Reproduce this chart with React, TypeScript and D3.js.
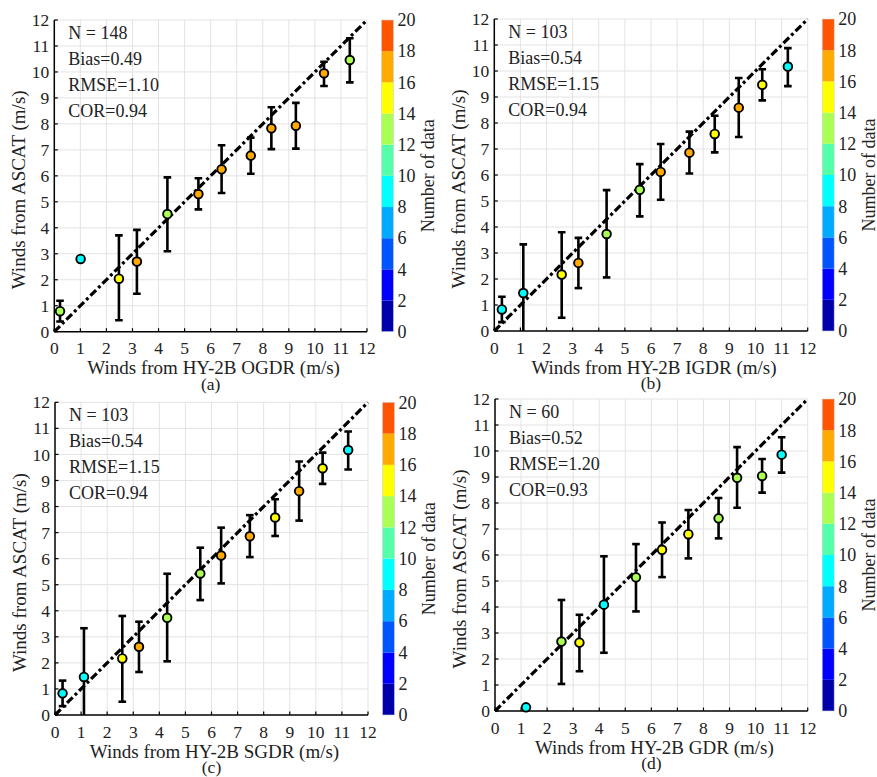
import React from "react";
import * as d3 from "d3";

// ---- data -------------------------------------------------------------
const TICKS = [0, 1, 2, 3, 4, 5, 6, 7, 8, 9, 10, 11, 12];
const CB_TICKS = [0, 2, 4, 6, 8, 10, 12, 14, 16, 18, 20];
// jet(10) colormap used for the "Number of data" colour bar
const JET10 = [
  "#0000aa", "#0000ff", "#0055ff", "#00aaff", "#00ffff",
  "#55ffaa", "#aaff55", "#ffff00", "#ffaa00", "#ff5500",
];

// (a) OGDR
const ogdrX = [0.22, 1.01, 2.48, 3.17, 4.34, 5.53, 6.42, 7.54, 8.33, 9.27, 10.35, 11.34];
const ogdrY = [0.79, 2.8, 2.04, 2.7, 4.53, 5.3, 6.25, 6.78, 7.83, 7.93, 9.95, 10.46];
const ogdrHi = [1.19, null, 3.71, 3.92, 5.94, 5.91, 7.18, 7.47, 8.64, 8.81, 10.39, 11.3];
const ogdrLo = [0.39, null, 0.44, 1.46, 3.1, 4.71, 5.34, 6.08, 7.03, 7.05, 9.46, 9.6];
const ogdrN = [13, 9, 15, 17, 13, 17, 17, 17, 17, 17, 17, 13];
const ogdrStats = ["N = 148", "Bias=0.49", "RMSE=1.10", "COR=0.94"];

// (b) IGDR
const igdrX = [0.29, 1.11, 2.58, 3.22, 4.3, 5.57, 6.37, 7.47, 8.44, 9.36, 10.26, 11.24];
const igdrY = [0.83, 1.46, 2.17, 2.62, 3.73, 5.43, 6.12, 6.86, 7.58, 8.59, 9.47, 10.17];
const igdrHi = [1.32, 3.33, 3.8, 3.58, 5.42, 6.42, 7.19, 7.67, 8.28, 9.73, 10.07, 10.88];
const igdrLo = [0.34, -0.41, 0.51, 1.65, 2.06, 4.41, 5.05, 6.06, 6.87, 7.46, 8.87, 9.42];
const igdrN = [9, 9, 15, 17, 13, 13, 17, 17, 15, 17, 15, 9];
const igdrStats = ["N = 103", "Bias=0.54", "RMSE=1.15", "COR=0.94"];

// (c) SGDR
const sgdrX = [0.29, 1.11, 2.58, 3.22, 4.3, 5.57, 6.37, 7.47, 8.44, 9.36, 10.26, 11.24];
const sgdrY = [0.83, 1.46, 2.17, 2.62, 3.73, 5.43, 6.12, 6.86, 7.58, 8.59, 9.47, 10.17];
const sgdrHi = [1.32, 3.33, 3.8, 3.58, 5.42, 6.42, 7.19, 7.67, 8.28, 9.73, 10.07, 10.88];
const sgdrLo = [0.34, -0.41, 0.51, 1.65, 2.06, 4.41, 5.05, 6.06, 6.87, 7.46, 8.87, 9.42];
const sgdrN = [9, 9, 15, 17, 13, 13, 17, 17, 15, 17, 15, 9];
const sgdrStats = ["N = 103", "Bias=0.54", "RMSE=1.15", "COR=0.94"];

// (d) GDR
const gdrX = [1.19, 2.55, 3.24, 4.18, 5.41, 6.41, 7.42, 8.58, 9.29, 10.25, 11.0];
const gdrY = [0.14, 2.67, 2.63, 4.09, 5.14, 6.2, 6.8, 7.41, 8.97, 9.04, 9.86];
const gdrHi = [null, 4.27, 3.7, 5.95, 6.42, 7.25, 7.73, 8.19, 10.15, 9.69, 10.53];
const gdrLo = [null, 1.04, 1.53, 2.24, 3.83, 5.15, 5.87, 6.64, 7.82, 8.4, 9.17];
const gdrN = [9, 13, 15, 9, 13, 15, 15, 13, 13, 13, 9];
const gdrStats = ["N = 60", "Bias=0.52", "RMSE=1.20", "COR=0.93"];

// ---- layout -----------------------------------------------------------
const FONT = "'Liberation Serif', 'Times New Roman', serif";

type PanelDef = {
  id: string;
  left: number;
  top: number;
  w: number;
  h: number;
  xs: number[];
  ys: number[];
  hi: (number | null)[];
  lo: (number | null)[];
  n: number[];
  stats: string[];
  xLabel: string;
  tag: string;
};

const panels: PanelDef[] = [
  { id: "a", left: 54.3, top: 20, w: 312.7, h: 311.7, xs: ogdrX, ys: ogdrY, hi: ogdrHi, lo: ogdrLo, n: ogdrN, stats: ogdrStats, xLabel: "Winds from HY-2B OGDR (m/s)", tag: "(a)" },
  { id: "b", left: 494.3, top: 19, w: 313.4, h: 312, xs: igdrX, ys: igdrY, hi: igdrHi, lo: igdrLo, n: igdrN, stats: igdrStats, xLabel: "Winds from HY-2B IGDR (m/s)", tag: "(b)" },
  { id: "c", left: 55, top: 402.3, w: 313, h: 312.7, xs: sgdrX, ys: sgdrY, hi: sgdrHi, lo: sgdrLo, n: sgdrN, stats: sgdrStats, xLabel: "Winds from HY-2B SGDR (m/s)", tag: "(c)" },
  { id: "d", left: 495, top: 399, w: 312.7, h: 312, xs: gdrX, ys: gdrY, hi: gdrHi, lo: gdrLo, n: gdrN, stats: gdrStats, xLabel: "Winds from HY-2B GDR (m/s)", tag: "(d)" },
];

const colorOf = d3.scaleQuantize<string>().domain([0, 20]).range(JET10);

function Panel({ p }: { p: PanelDef }) {
  const x = d3.scaleLinear().domain([0, 12]).range([p.left, p.left + p.w]);
  const y = d3.scaleLinear().domain([0, 12]).range([p.top + p.h, p.top]);
  const x0 = x(0);
  const y0 = y(0);
  const cbL = p.left + p.w + 14.5;
  const cbW = 12;
  const cb = d3.scaleLinear().domain([0, 20]).range([y0, y(12)]);
  const diag = d3.line<number>().x((v) => x(v)).y((v) => y(v));
  const clipId = `clip-${p.id}`;
  const cap = 3.8;

  return (
    <g>
      <defs>
        <clipPath id={clipId}>
          <rect x={x0} y={y(12) - 2} width={p.w + 2} height={p.h + 2} />
        </clipPath>
      </defs>
      {/* grid */}
      {TICKS.slice(1).map((t) => (
        <g key={`g${t}`}>
          <line x1={x(t)} x2={x(t)} y1={y0} y2={y(12)} stroke="#e3e3e3" strokeWidth={1} />
          <line x1={x0} x2={x(12)} y1={y(t)} y2={y(t)} stroke="#e3e3e3" strokeWidth={1} />
        </g>
      ))}
      {/* axes */}
      <line x1={x0} x2={x(12)} y1={y0} y2={y0} stroke="#000" strokeWidth={1.5} />
      <line x1={x0} x2={x0} y1={y0} y2={y(12)} stroke="#000" strokeWidth={1.5} />
      {TICKS.map((t) => (
        <g key={`t${t}`}>
          <line x1={x(t)} x2={x(t)} y1={y0} y2={y0 - 3.5} stroke="#000" strokeWidth={1.2} />
          <line x1={x0} x2={x0 + 3.5} y1={y(t)} y2={y(t)} stroke="#000" strokeWidth={1.2} />
          <text x={x(t)} y={y0 + 22.5} textAnchor="middle" fontSize={17.5} fontFamily={FONT} fill="#222">
            {t}
          </text>
          <text x={x0 - 5} y={y(t)} dy="0.35em" textAnchor="end" fontSize={17.5} fontFamily={FONT} fill="#222">
            {t}
          </text>
        </g>
      ))}
      {/* 1:1 line */}
      <path d={diag([0, 12]) ?? ""} fill="none" stroke="#000" strokeWidth={3.2} strokeDasharray="8 3 3 3" />
      {/* error bars and points */}
      <g clipPath={`url(#${clipId})`}>
        {p.xs.map((xv, i) => {
          const hi = p.hi[i];
          const lo = p.lo[i];
          if (hi == null || lo == null) return null;
          const cx = x(xv);
          return (
            <g key={`e${i}`} stroke="#000" strokeWidth={2.6}>
              <line x1={cx} x2={cx} y1={y(hi)} y2={y(lo)} />
              <line x1={cx - cap} x2={cx + cap} y1={y(hi)} y2={y(hi)} />
              <line x1={cx - cap} x2={cx + cap} y1={y(lo)} y2={y(lo)} />
            </g>
          );
        })}
      </g>
      {p.xs.map((xv, i) => (
        <circle key={`p${i}`} cx={x(xv)} cy={y(p.ys[i])} r={4.3} fill={colorOf(p.n[i])} stroke="#000" strokeWidth={1.9} />
      ))}
      {/* statistics */}
      {p.stats.map((s, i) => (
        <text key={`s${i}`} x={x0 + 14} y={y(12) + 19 + i * 26} fontSize={18} fontFamily={FONT} fill="#222">
          {s}
        </text>
      ))}
      {/* axis labels */}
      <text x={(x0 + x(12)) / 2 + 3} y={y0 + 42.5} textAnchor="middle" fontSize={19} fontFamily={FONT} fill="#222">
        {p.xLabel}
      </text>
      <text
        transform={`translate(${x0 - 36},${(y0 + y(12)) / 2 + 14}) rotate(-90)`}
        textAnchor="middle"
        dy="0.35em"
        fontSize={19}
        fontFamily={FONT}
        fill="#222"
      >
        Winds from ASCAT (m/s)
      </text>
      <text x={(x0 + x(12)) / 2} y={y0 + 58} textAnchor="middle" fontSize={17.5} fontFamily={FONT} fill="#222">
        {p.tag}
      </text>
      {/* colour bar */}
      {JET10.map((c, i) => (
        <rect key={`c${i}`} x={cbL} y={cb(i * 2 + 2)} width={cbW} height={cb(i * 2) - cb(i * 2 + 2)} fill={c} />
      ))}
      <rect x={cbL} y={cb(20)} width={cbW} height={cb(0) - cb(20)} fill="none" stroke="#d0d0d0" strokeWidth={0.6} />
      {CB_TICKS.map((t) => (
        <text key={`cb${t}`} x={cbL + cbW + 4} y={cb(t)} dy="0.35em" fontSize={18} fontFamily={FONT} fill="#222">
          {t}
        </text>
      ))}
      <text
        transform={`translate(${cbL + cbW + 34},${(y0 + y(12)) / 2}) rotate(-90)`}
        textAnchor="middle"
        dy="0.35em"
        fontSize={18}
        fontFamily={FONT}
        fill="#222"
      >
        Number of data
      </text>
    </g>
  );
}

export default function App() {
  return (
    <div style={{ position: "absolute", left: 0, top: 0 }}>
      <svg width={877} height={777} style={{ display: "block", background: "#fff" }}>
        {panels.map((p) => (
          <Panel key={p.id} p={p} />
        ))}
      </svg>
    </div>
  );
}
